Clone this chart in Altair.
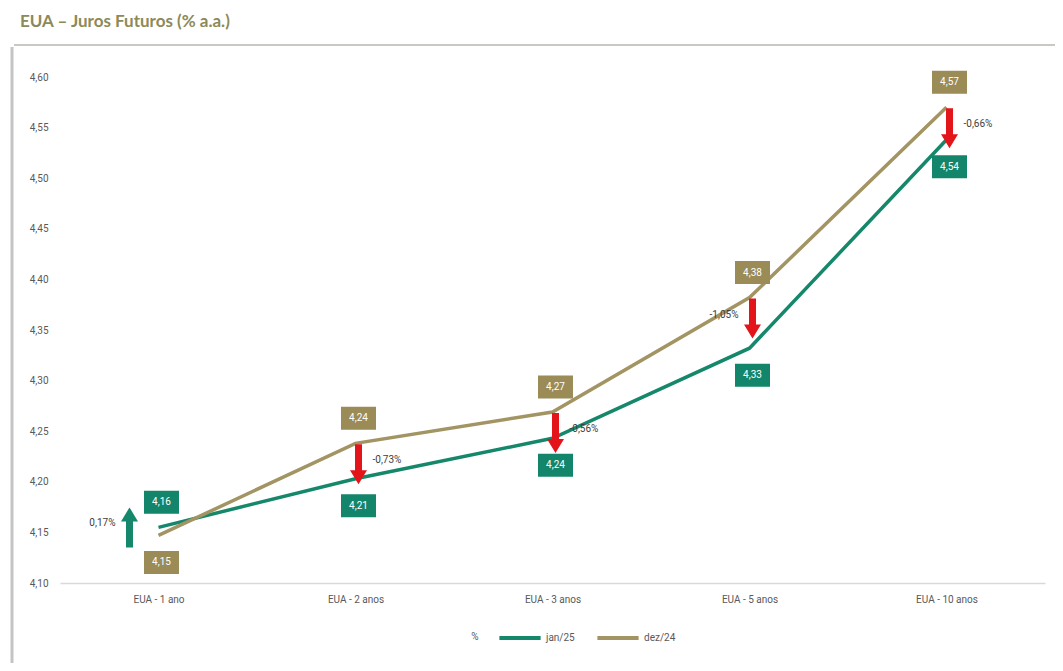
import altair as alt
import pandas as pd

categories = ["EUA - 1 ano", "EUA - 2 anos", "EUA - 3 anos", "EUA - 5 anos", "EUA - 10 anos"]
series = ["jan/25", "dez/24"]
jan25 = [4.155, 4.203, 4.243, 4.332, 4.538]
dez24 = [4.147, 4.238, 4.269, 4.382, 4.570]
jan25_labels = ["4,16", "4,21", "4,24", "4,33", "4,54"]
dez24_labels = ["4,15", "4,24", "4,27", "4,38", "4,57"]
changes = [0.17, -0.73, -0.56, -1.05, -0.66]
y_ticks = [4.10, 4.15, 4.20, 4.25, 4.30, 4.35, 4.40, 4.45, 4.50, 4.55, 4.60]
title_text = "EUA – Juros Futuros (% a.a.)"
legend_title = "%"

# layout (not data): which percentage labels sit left of their arrow
pct_left = {"EUA - 1 ano", "EUA - 5 anos"}

GREEN = "#15876a"
GOLD = "#a39463"
GREEN_BOX = "#13856a"
GOLD_BOX = "#9a8b57"
RED = "#e3151b"
FONT = "Liberation Sans Narrow, Roboto, Liberation Sans, sans-serif"

rows = []
for i, c in enumerate(categories):
    for s, vals, labs, other in (("jan/25", jan25, jan25_labels, dez24), ("dez/24", dez24, dez24_labels, jan25)):
        rows.append({
            "categoria": c, "serie": s, "valor": vals[i], "rotulo": labs[i],
            "lado": "acima" if vals[i] >= other[i] else "abaixo",
        })
df = pd.DataFrame(rows)

arr = pd.DataFrame({
    "categoria": categories,
    "ref": dez24,
    "var": changes,
})
arr["texto"] = arr["var"].map(lambda v: f"{v:.2f}".replace(".", ",") + "%")
arr["dir"] = ["sobe" if v > 0 else "desce" for v in changes]
arr["pos"] = ["esq" if c in pct_left else "dir" for c in categories]

x_enc = alt.X("categoria:N", sort=categories, title=None,
              axis=alt.Axis(labelAngle=0, ticks=False, domainColor="#d9d9d9", domainWidth=1.5,
                            labelPadding=11, labelFontSize=10, labelColor="#595959", labelFont=FONT))
y_enc = alt.Y("valor:Q", title=None,
              scale=alt.Scale(domain=[4.10, 4.60], nice=False, zero=False),
              axis=alt.Axis(values=y_ticks, domain=False, ticks=False, grid=False,
                            labelExpr="replace(format(datum.value, '.2f'), '.', ',')",
                            labelPadding=12, labelFontSize=10, labelColor="#595959", labelFont=FONT))

base = alt.Chart(df)

lines = base.mark_line(strokeWidth=3.5).encode(
    x=x_enc, y=y_enc,
    color=alt.Color("serie:N", scale=alt.Scale(domain=series, range=[GREEN, GOLD]),
                    legend=alt.Legend(title=None, orient="none", legendX=437, legendY=538,
                                      direction="horizontal",
                                      labelFontSize=10, labelColor="#595959", labelFont=FONT,
                                      symbolType="stroke", symbolSize=1700, symbolStrokeWidth=4,
                                      labelOffset=3, columnPadding=14)),
    order=alt.Order("serie:N"),
)

RECT = "M-1,-0.657L1,-0.657L1,0.657L-1,0.657Z"
box_fill = alt.Fill("serie:N", scale=alt.Scale(domain=series, range=[GREEN_BOX, GOLD_BOX]), legend=None)

layers = [lines]
for lado, yo in (("acima", -25), ("abaixo", 27)):
    sub = base.transform_filter(alt.datum.lado == lado)
    layers.append(sub.mark_point(shape=RECT, size=1225, filled=True, opacity=1, strokeOpacity=0,
                                 xOffset=3, yOffset=yo).encode(
        x=alt.X("categoria:N", sort=categories), y="valor:Q", fill=box_fill))
    layers.append(sub.mark_text(color="white", fontSize=10, font=FONT, xOffset=3, yOffset=yo,
                                baseline="middle", align="center").encode(
        x=alt.X("categoria:N", sort=categories), y="valor:Q", text="rotulo:N"))

ARROW_DOWN = "M-0.175,-1L0.175,-1L0.175,0.3L0.425,0.3L0,1L-0.425,0.3L-0.175,0.3Z"
ARROW_UP = "M-0.175,1L0.175,1L0.175,-0.3L0.425,-0.3L0,-1L-0.425,-0.3L-0.175,-0.3Z"

abase = alt.Chart(arr).encode(x=alt.X("categoria:N", sort=categories),
                              y=alt.Y("ref:Q"))
for d, shape, col, xo, yo in (("desce", ARROW_DOWN, RED, 3, 21), ("sobe", ARROW_UP, GREEN, -29, -8)):
    sub = abase.transform_filter(alt.datum.dir == d)
    layers.append(sub.mark_point(shape=shape, size=1600, filled=True, opacity=1, color=col,
                                 strokeOpacity=0, xOffset=xo, yOffset=yo))
    for pos, align, dx in (("dir", "left", 14), ("esq", "right", -14)):
        layers.append(sub.transform_filter(alt.datum.pos == pos).mark_text(
            align=align, baseline="middle", fontSize=10, font=FONT, color="#404040",
            xOffset=xo + dx, yOffset=yo - 4).encode(text="texto:N"))

one = pd.DataFrame({"t": [title_text]})
title = alt.Chart(one).mark_text(align="left", baseline="middle", fontSize=17, fontWeight="bold",
                                 font="Lato, Open Sans, sans-serif", color="#8c8a58").encode(
    x=alt.value(-40), y=alt.value(-55), text="t:N")
leg_title = alt.Chart(pd.DataFrame({"t": [legend_title]})).mark_text(
    align="center", baseline="middle", fontSize=10, font=FONT, color="#595959").encode(
    x=alt.value(415), y=alt.value(560), text="t:N")
hline = alt.Chart(one).mark_rule(color="#c9c9c4", strokeWidth=2).encode(
    x=alt.value(-46), x2=alt.value(1010), y=alt.value(-32))
vline = alt.Chart(one).mark_rule(color="#c4c4c4", strokeWidth=3).encode(
    x=alt.value(-48), y=alt.value(-30), y2=alt.value(600))

chart = alt.layer(hline, vline, title, leg_title, *layers).properties(
    width=985, height=506,
    autosize=alt.AutoSizeParams(type="none"),
    padding={"left": 52, "top": 69, "right": 10, "bottom": 80},
).configure_view(stroke=None)

chart.save("out.html", embed_options={"renderer": "svg", "actions": False})
